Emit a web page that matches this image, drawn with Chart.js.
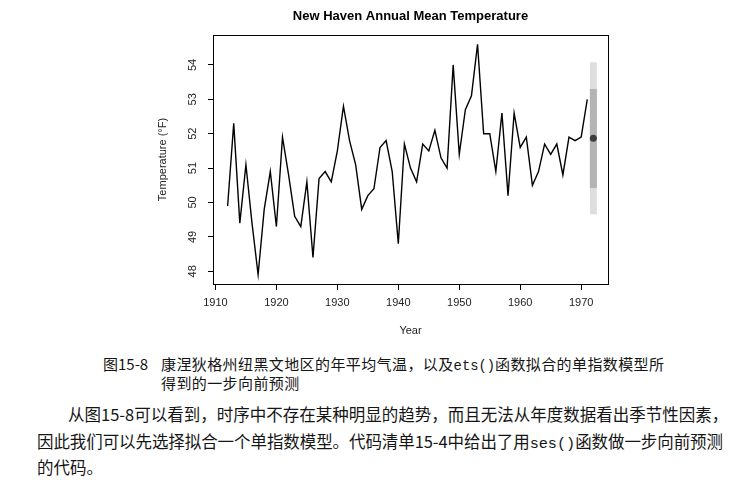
<!DOCTYPE html>
<html>
<head>
<meta charset="utf-8">
<script src="https://cdn.jsdelivr.net/npm/chart.js@4"></script>
<style>
  html, body { margin: 0; padding: 0; background: #fff; }
  body { width: 753px; height: 486px; position: relative; overflow: hidden; color: #151515; }
  #wrap { position: absolute; left: 0; top: 0; width: 753px; height: 345px; }
  .txt { position: absolute; white-space: nowrap; font-family: "Noto Sans CJK SC", sans-serif; }
  .cap { font-size: 15px; line-height: 19px; letter-spacing: 0.4px; }
  .body { font-size: 16.5px; line-height: 22px; }
  .tight { letter-spacing: -0.08px; }
  code { font-family: "Liberation Mono", "DejaVu Sans Mono", monospace; font-size: 0.92em; letter-spacing: 0; }
</style>
</head>
<body>
<div id="wrap"><canvas id="tempChart" width="753" height="345"></canvas></div>

<div class="txt cap" style="left:103px; top:354px; letter-spacing:0;">图15-8</div>
<div class="txt cap" style="left:161px; top:354px;">康涅狄格州纽黑文地区的年平均气温，以及<code>ets()</code>函数拟合的单指数模型所</div>
<div class="txt cap" style="left:161px; top:373px;">得到的一步向前预测</div>

<div class="txt body" style="left:68px; top:403px;">从图15-8可以看到，时序中不存在某种明显的趋势，而且无法从年度数据看出季节性因素，</div>
<div class="txt body tight" style="left:37px; top:430px;">因此我们可以先选择拟合一个单指数模型。代码清单15-4中给出了用<code>ses()</code>函数做一步向前预测</div>
<div class="txt body" style="left:37px; top:456px;">的代码。</div>

<script>
const years = [1912, 1913, 1914, 1915, 1916, 1917, 1918, 1919, 1920, 1921,
  1922, 1923, 1924, 1925, 1926, 1927, 1928, 1929, 1930, 1931,
  1932, 1933, 1934, 1935, 1936, 1937, 1938, 1939, 1940, 1941,
  1942, 1943, 1944, 1945, 1946, 1947, 1948, 1949, 1950, 1951,
  1952, 1953, 1954, 1955, 1956, 1957, 1958, 1959, 1960, 1961,
  1962, 1963, 1964, 1965, 1966, 1967, 1968, 1969, 1970, 1971];
const temps = [49.9, 52.3, 49.4, 51.1, 49.4, 47.9, 49.8, 50.9, 49.3, 51.9,
  50.8, 49.6, 49.3, 50.6, 48.4, 50.7, 50.9, 50.6, 51.5, 52.8,
  51.8, 51.1, 49.8, 50.2, 50.4, 51.6, 51.8, 50.9, 48.8, 51.7,
  51.0, 50.6, 51.7, 51.5, 52.1, 51.3, 51.0, 54.0, 51.4, 52.7,
  53.1, 54.6, 52.0, 52.0, 50.9, 52.6, 50.2, 52.6, 51.6, 51.9,
  50.5, 50.9, 51.7, 51.4, 51.7, 50.8, 51.9, 51.8, 51.9, 53.0];

// one-step-ahead forecast with 80% and 95% intervals
const forecastYear = 1972;
const forecastMean = 51.87;
const interval80 = [50.42, 53.30];
const interval95 = [49.66, 54.08];

const xTicks = [1910, 1920, 1930, 1940, 1950, 1960, 1970];
const yTicks = [48, 49, 50, 51, 52, 53, 54];

const axisFont = { family: 'Liberation Sans', size: 11 };

// box around the plot region, like R's bty="o"
const boxPlugin = {
  id: 'plotBox',
  afterDraw(chart) {
    const { ctx, chartArea: a } = chart;
    ctx.save();
    ctx.strokeStyle = '#000';
    ctx.lineWidth = 1;
    ctx.strokeRect(Math.round(a.left) + 0.5, Math.round(a.top) + 0.5,
      Math.round(a.right - a.left), Math.round(a.bottom - a.top));
    ctx.restore();
  }
};

function intervalPoints(range) {
  return range.map((v) => ({ x: forecastYear, y: v }));
}

new Chart(document.getElementById('tempChart'), {
  type: 'line',
  data: {
    datasets: [
      {
        label: 'forecast',
        type: 'scatter',
        data: [{ x: forecastYear, y: forecastMean }],
        pointRadius: 3.5,
        pointBackgroundColor: '#3c3c3c',
        pointBorderWidth: 0,
        order: 0
      },
      {
        label: '80%',
        data: intervalPoints(interval80),
        borderColor: '#b4b4b4',
        borderWidth: 7,
        borderCapStyle: 'butt',
        pointRadius: 0,
        order: 1
      },
      {
        label: '95%',
        data: intervalPoints(interval95),
        borderColor: '#dedede',
        borderWidth: 7,
        borderCapStyle: 'butt',
        pointRadius: 0,
        order: 2
      },
      {
        label: 'temperature',
        data: years.map((yr, i) => ({ x: yr, y: temps[i] })),
        borderColor: '#000',
        borderWidth: 1.4,
        pointRadius: 0,
        tension: 0,
        order: 3
      }
    ]
  },
  options: {
    responsive: false,
    animation: false,
    devicePixelRatio: 1,
    layout: { padding: { left: 150, right: 145, top: 0, bottom: 0 } },
    plugins: {
      legend: { display: false },
      tooltip: { enabled: false },
      title: {
        display: true,
        text: 'New Haven Annual Mean Temperature',
        color: '#000',
        fullSize: false,
        font: { family: 'Liberation Sans', size: 13, weight: 'bold' },
        padding: { top: 9, bottom: 10.4 }
      }
    },
    scales: {
      x: {
        type: 'linear',
        min: 1909.6,
        max: 1974.4,
        afterBuildTicks: (s) => { s.ticks = xTicks.map((v) => ({ value: v })); },
        afterFit: (s) => { s.height = 61; },
        grid: { drawOnChartArea: false, drawTicks: true, tickLength: 6, color: '#000', lineWidth: 1 },
        border: { display: true, color: '#000', width: 1 },
        ticks: { color: '#222', font: axisFont, padding: 6, maxRotation: 0, callback: (v) => String(v) },
        title: { display: true, text: 'Year', color: '#222', font: axisFont, padding: { top: 0, bottom: 7.4 } }
      },
      y: {
        type: 'linear',
        min: 47.63,
        max: 54.87,
        afterBuildTicks: (s) => { s.ticks = yTicks.map((v) => ({ value: v })); },
        afterFit: (s) => { s.width = 63; },
        grid: { drawOnChartArea: false, drawTicks: true, tickLength: 5, color: '#000', lineWidth: 1 },
        border: { display: true, color: '#000', width: 1 },
        ticks: { color: '#222', font: axisFont, padding: 9, minRotation: 90, maxRotation: 90, crossAlign: 'center' },
        title: { display: true, text: 'Temperature (°F)', color: '#222', font: axisFont, padding: { top: 6, bottom: 0 } }
      }
    }
  },
  plugins: [boxPlugin]
});
</script>
</body>
</html>
